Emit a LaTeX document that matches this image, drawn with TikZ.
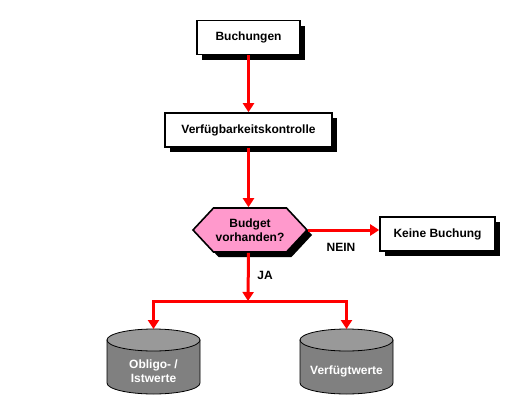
\documentclass[tikz,border=0pt]{standalone}
\usepackage{fontspec}
\setmainfont{Liberation Sans}
\usetikzlibrary{positioning,shapes.symbols,shadows,arrows.meta}

\definecolor{budgetpink}{RGB}{255,153,204}
\definecolor{dbbody}{RGB}{128,128,128}
\definecolor{dbtop}{RGB}{153,153,153}

\tikzset{
  lbl/.style={font=\fontsize{12}{14}\selectfont\bfseries},
  blackshadow/.style={drop shadow={shadow xshift=5pt,shadow yshift=-5pt,fill=black,opacity=1}},
  box/.style={lbl,draw,line width=1.6pt,fill=white,minimum height=34pt,blackshadow},
  flow/.style={red,line width=3pt,-{Triangle[width=11pt,length=9pt]}},
  dbtext/.style={lbl,text=white,align=center}
}

\begin{document}
\begin{tikzpicture}[x=1pt,y=-1pt]
\useasboundingbox (0,0) rectangle (527,407);

% data stores
\foreach \cx in {153.5,346.5}{
  \draw[thick,fill=dbbody] (\cx-46.5,340) -- (\cx-46.5,383) arc(180:0:46.5 and 11) -- (\cx+46.5,340) -- cycle;
  \draw[thick,fill=dbtop] (\cx,340) ellipse (46.5 and 11);
}
\coordinate (obligo-top) at (153.5,329);
\coordinate (verfw-top) at (346.5,329);
\node[dbtext] (obligo) at (153.5,371) {Obligo- /\\Istwerte};
\node[dbtext] (verfw) at (346.5,371) {Verfügtwerte};

\node[box,minimum width=103pt] (buch) at (248.5,37.5) {Buchungen};
\node[box,minimum width=167pt] (verf) at (248.5,130) {Verfügbarkeitskontrolle};
\node[lbl,signal,signal to=west and east,signal pointer angle=94,draw,line width=1.6pt,
  fill=budgetpink,minimum width=114pt,minimum height=44pt,inner sep=0pt,align=center,blackshadow]
  (budget) at (250,230) {Budget\\vorhanden?};
\node[box,minimum width=115pt] (keine) at (437.5,234) {Keine Buchung};

\coordinate (split) at (248,301);

\draw[flow] (buch.south) -- (verf.north);
\draw[flow] (verf.south) -- (verf.south |- budget.north);
\draw[flow] (budget.east) -- (budget.east -| keine.west);
\draw[flow] (verf.south |- budget.south) -- (split);
\draw[flow] (split) -| (obligo-top);
\draw[flow] (split) -| (verfw-top);

\node[lbl] (nein) at (341,247) {NEIN};
\node[lbl] (ja) at (265,275) {JA};

\end{tikzpicture}
\end{document}
